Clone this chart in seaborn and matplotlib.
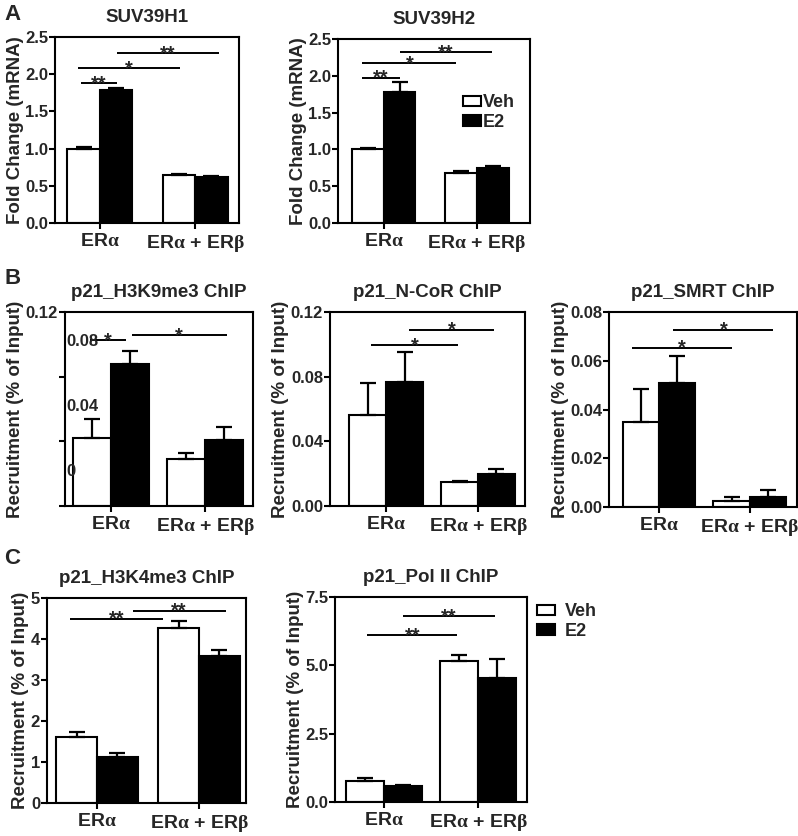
import numpy as np
import pandas as pd
import matplotlib
matplotlib.use('Agg')
import matplotlib.pyplot as plt
import seaborn as sns
from matplotlib.transforms import offset_copy

# ---------------- data ----------------
groups = ['ERα', 'ERα + ERβ']
group_labels = [r'ER$\mathrm{\alpha}$', r'ER$\mathrm{\alpha}$ + ER$\mathrm{\beta}$']
treatments = ['Veh', 'E2']

suv39h1_veh = [1.00, 0.65]
suv39h1_e2 = [1.79, 0.62]
suv39h1_veh_err = [0.02, 0.01]
suv39h1_e2_err = [0.02, 0.01]

suv39h2_veh = [1.00, 0.68]
suv39h2_e2 = [1.78, 0.75]
suv39h2_veh_err = [0.02, 0.02]
suv39h2_e2_err = [0.14, 0.02]

h3k9_veh = [0.042, 0.029]
h3k9_e2 = [0.088, 0.041]
h3k9_veh_err = [0.012, 0.004]
h3k9_e2_err = [0.0076, 0.008]

ncor_veh = [0.056, 0.0147]
ncor_e2 = [0.077, 0.020]
ncor_veh_err = [0.020, 0.001]
ncor_e2_err = [0.018, 0.003]

smrt_veh = [0.035, 0.0025]
smrt_e2 = [0.051, 0.0040]
smrt_veh_err = [0.0134, 0.0014]
smrt_e2_err = [0.011, 0.003]

h3k4_veh = [1.62, 4.28]
h3k4_e2 = [1.13, 3.58]
h3k4_veh_err = [0.10, 0.15]
h3k4_e2_err = [0.10, 0.14]

pol2_veh = [0.76, 5.15]
pol2_e2 = [0.57, 4.54]
pol2_veh_err = [0.13, 0.24]
pol2_e2_err = [0.05, 0.69]

# y ticks / labels
a_yticks = [0.0, 0.5, 1.0, 1.5, 2.0, 2.5]
a_yticklabels = ['0.0', '0.5', '1.0', '1.5', '2.0', '2.5']
b1_yticks = [0.0, 0.04, 0.08, 0.12]
b1_yticklabels = ['0', '0.04', '0.08', '0.12']
b2_yticks = [0.0, 0.04, 0.08, 0.12]
b2_yticklabels = ['0.00', '0.04', '0.08', '0.12']
b3_yticks = [0.0, 0.02, 0.04, 0.06, 0.08]
b3_yticklabels = ['0.00', '0.02', '0.04', '0.06', '0.08']
c1_yticks = [0, 1, 2, 3, 4, 5]
c1_yticklabels = ['0', '1', '2', '3', '4', '5']
c2_yticks = [0.0, 2.5, 5.0, 7.5]
c2_yticklabels = ['0.0', '2.5', '5.0', '7.5']

# significance annotations: (x start, x end, level, label)
a1_sig = [(-0.20, 0.18, 1.88, '**'), (-0.23, 0.84, 2.08, '*'), (0.18, 1.25, 2.28, '**')]
a2_sig = [(-0.23, 0.17, 1.97, '**'), (-0.23, 0.78, 2.17, '*'), (0.17, 1.16, 2.32, '**')]
b1_sig = [(-0.22, 0.16, 0.1025, '*'), (0.22, 1.23, 0.1056, '*')]
b2_sig = [(-0.16, 0.78, 0.0994, '*'), (0.25, 1.17, 0.109, '*')]
b3_sig = [(-0.30, 0.80, 0.0654, '*'), (0.16, 1.26, 0.0727, '*')]
c1_sig = [(-0.26, 0.65, 4.49, '**'), (0.35, 1.26, 4.69, '**')]
c2_sig = [(-0.18, 0.78, 6.10, '**'), (0.20, 1.18, 6.80, '**')]

# ---------------- style ----------------
sns.set_style('ticks')
plt.rcParams['font.family'] = ['Liberation Sans', 'DejaVu Sans']
plt.rcParams['font.weight'] = 'bold'
plt.rcParams['axes.labelweight'] = 'bold'
plt.rcParams['axes.titleweight'] = 'bold'
plt.rcParams['mathtext.fontset'] = 'custom'
plt.rcParams['mathtext.rm'] = 'Liberation Serif'
plt.rcParams['mathtext.it'] = 'Liberation Serif:italic'
plt.rcParams['mathtext.bf'] = 'Liberation Serif:bold'

W, H = 798, 836
fig = plt.figure(figsize=(W / 100, H / 100), dpi=100)

TICK_FS = 12
XTICK_FS = 14
TITLE_FS = 13.5
YLABEL_FS = 13.5
STAR_FS = 14.5


def make_ax(l, r, t, b):
    return fig.add_axes([l / W, 1 - b / H, (r - l) / W, (b - t) / H])


def draw(ax, veh, e2, veh_err, e2_err, width, ylim, yticks, yticklabels,
         xlim, title, ylabel, sig):
    df = pd.DataFrame({'group': groups * 2,
                       'treatment': ['Veh'] * 2 + ['E2'] * 2,
                       'value': veh + e2})
    sns.barplot(data=df, x='group', y='value', hue='treatment', order=groups,
                hue_order=treatments, palette={'Veh': 'white', 'E2': 'black'},
                edgecolor='black', linewidth=1.5, width=width, errorbar=None,
                saturation=1, legend=False, ax=ax)
    conts = list(ax.containers)[:2]
    for cont, err in zip(conts, [veh_err, e2_err]):
        xs = [p.get_x() + p.get_width() / 2 for p in cont.patches]
        ys = [p.get_height() for p in cont.patches]
        ax.errorbar(xs, ys, yerr=[np.zeros(len(err)), err], fmt='none',
                    ecolor='black', elinewidth=1.6, capsize=6, capthick=1.6,
                    zorder=3)
    for x0, x1, y, lab in sig:
        ax.plot([x0, x1], [y, y], color='black', lw=1.4, solid_capstyle='butt')
        ax.annotate(lab, ((x0 + x1) / 2, y), xytext=(0, -4.2),
                    textcoords='offset points', ha='center', va='baseline',
                    fontsize=STAR_FS, fontweight='bold')
    ax.set_xlim(*xlim)
    ax.set_ylim(*ylim)
    ax.set_yticks(yticks)
    ax.set_yticklabels(yticklabels)
    ax.set_xticks([0, 1])
    ax.set_xticklabels(group_labels)
    ax.set_xlabel('')
    ax.set_ylabel(ylabel, fontsize=YLABEL_FS, labelpad=1)
    ax.set_title(title, fontsize=TITLE_FS, pad=11)
    for s in ax.spines.values():
        s.set_visible(True)
        s.set_linewidth(1.5)
        s.set_color('black')
    ax.tick_params(axis='both', direction='out', length=4, width=1.5,
                   color='black')
    ax.tick_params(axis='y', labelsize=TICK_FS, pad=1)
    ax.tick_params(axis='x', labelsize=XTICK_FS, pad=3)
    return conts


leg_kw = dict(frameon=False, fontsize=13, handlelength=1.0, handleheight=0.5,
              labelspacing=0.15, borderpad=0, borderaxespad=0)

# Row A
ax = make_ax(55, 239, 37, 223)
draw(ax, suv39h1_veh, suv39h1_e2, suv39h1_veh_err, suv39h1_e2_err, 0.68,
     (0, 2.5), a_yticks, a_yticklabels, (-0.47, 1.46), 'SUV39H1',
     'Fold Change (mRNA)', a1_sig)

ax = make_ax(338, 530, 39, 223)
conts = draw(ax, suv39h2_veh, suv39h2_e2, suv39h2_veh_err, suv39h2_e2_err, 0.68,
             (0, 2.5), a_yticks, a_yticklabels, (-0.49, 1.57), 'SUV39H2',
             'Fold Change (mRNA)', a2_sig)
ax.legend(handles=conts, labels=treatments, loc='upper left',
          bbox_to_anchor=(0.651, 0.70), handletextpad=0.12, **leg_kw)

# Row B
ax = make_ax(65, 253, 312, 506)
draw(ax, h3k9_veh, h3k9_e2, h3k9_veh_err, h3k9_e2_err, 0.8,
     (0, 0.12), b1_yticks, [''] * 3 + [b1_yticklabels[-1]], (-0.49, 1.51),
     'p21_H3K9me3 ChIP', 'Recruitment (% of Input)', b1_sig)
shifted = offset_copy(ax.get_yaxis_transform(), fig=fig, x=1, y=35, units='dots')
for v, lab in zip(b1_yticks[:-1], b1_yticklabels[:-1]):
    ax.text(0, v, lab, transform=shifted, ha='left', va='center',
            fontsize=TICK_FS, fontweight='bold')

ax = make_ax(330, 525, 312, 506)
draw(ax, ncor_veh, ncor_e2, ncor_veh_err, ncor_e2_err, 0.8,
     (0, 0.12), b2_yticks, b2_yticklabels, (-0.61, 1.51),
     'p21_N-CoR ChIP', 'Recruitment (% of Input)', b2_sig)

ax = make_ax(609, 797, 312, 507)
draw(ax, smrt_veh, smrt_e2, smrt_veh_err, smrt_e2_err, 0.8,
     (0, 0.08), b3_yticks, b3_yticklabels, (-0.55, 1.52),
     'p21_SMRT ChIP', 'Recruitment (% of Input)', b3_sig)

# Row C
ax = make_ax(47, 246, 598, 803)
draw(ax, h3k4_veh, h3k4_e2, h3k4_veh_err, h3k4_e2_err, 0.8,
     (0, 5), c1_yticks, c1_yticklabels, (-0.49, 1.46),
     'p21_H3K4me3 ChIP', 'Recruitment (% of Input)', c1_sig)

ax = make_ax(335, 527, 597, 802)
conts = draw(ax, pol2_veh, pol2_e2, pol2_veh_err, pol2_e2_err, 0.8,
             (0, 7.5), c2_yticks, c2_yticklabels, (-0.52, 1.52),
             'p21_Pol II ChIP', 'Recruitment (% of Input)', c2_sig)
ax.legend(handles=conts, labels=treatments, loc='upper left',
          bbox_to_anchor=(1.052, 0.97), handletextpad=0.55, **leg_kw)

# panel letters
for lab, y in [('A', 14), ('B', 279), ('C', 559)]:
    fig.text(4 / W, 1 - y / H, lab, fontsize=16, fontweight='bold',
             ha='left', va='center')

fig.savefig('out.png', dpi=100, facecolor='white')
